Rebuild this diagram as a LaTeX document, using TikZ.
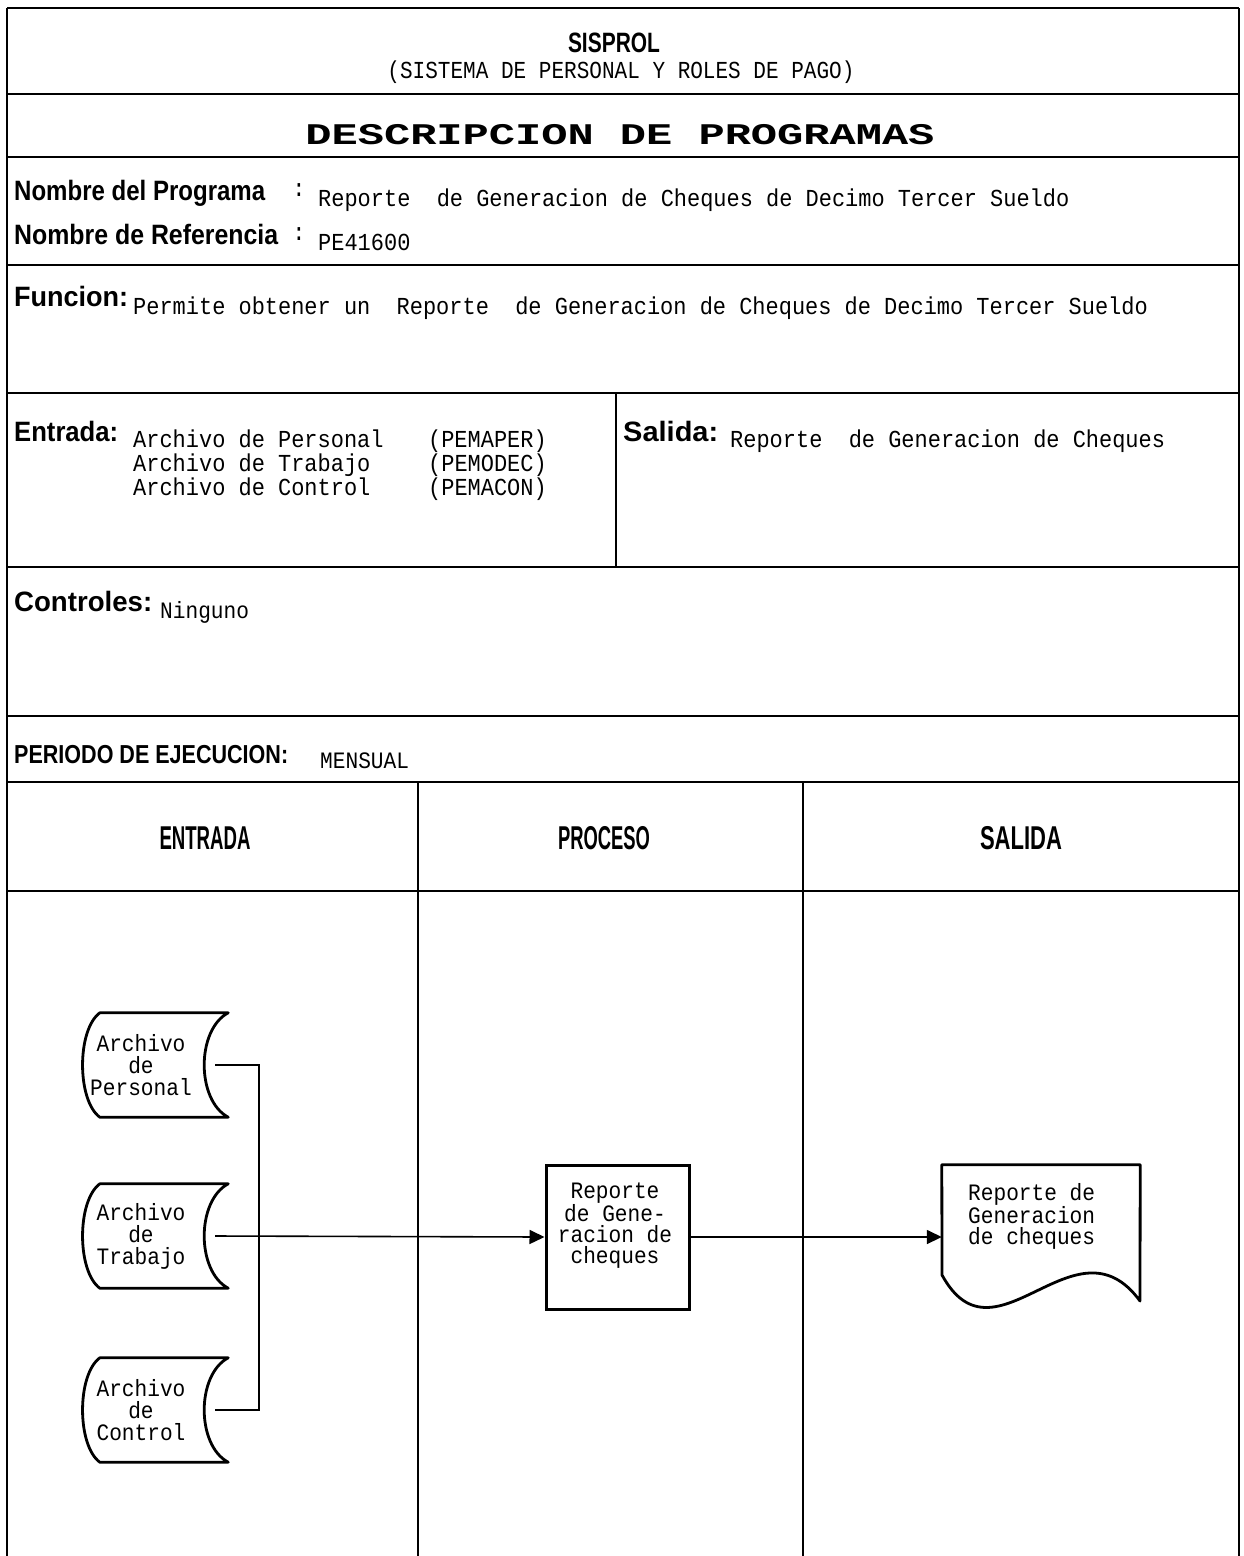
\documentclass[tikz,border=0pt]{standalone}
\usepackage{fontspec}
\usepackage{graphicx}
\usetikzlibrary{arrows.meta,calc}
\setmainfont{Liberation Sans}
\newfontfamily\hdf{Liberation Sans}
\newfontfamily\monof[FakeStretch=0.9]{Liberation Mono}
\newcommand\fitw[2]{\resizebox{#1}{\height}{#2}}
\newcommand\fsz[2]{\fontsize{#1}{#2}\selectfont}
\tikzset{
  hline/.style={line width=2.8pt},
  vline/.style={line width=2.2pt},
  cline/.style={line width=1.5pt},
  hd/.style={inner sep=0pt, font=\hdf\bfseries\fsz{28}{28}},
  tx/.style={inner sep=0pt, font=\monof\fsz{24.4}{22}},
  dtx/.style={inner sep=0pt, font=\monof\fsz{23.5}{21}, align=center},
  shp/.style={line width=2.8pt, line join=round},
  conn/.style={line width=1.6pt},
  arr/.style={conn, -{Triangle[length=15pt,width=14pt]}}
}
\begin{document}
\begin{tikzpicture}[x=1pt,y=-1pt]
\useasboundingbox (0,0) rectangle (1244,1556);
\fill[white] (0,0) rectangle (1244,1556);
% frame
\draw[vline] (7,8) -- (7,1556);
\draw[vline] (1239,8) -- (1239,1556);
\foreach \yy in {8,94,157,265,393,567,716,782,891}
  \draw[hline] (7,\yy) -- (1239,\yy);
\draw[cline] (616,393) -- (616,567);
\draw[cline] (418,782) -- (418,1556);
\draw[cline] (803,782) -- (803,1556);

% header
\node[hd, font=\hdf\bfseries\fsz{28}{28}, anchor=base] (t1) at (614,52) {\fitw{92pt}{SISPROL}};
\node[tx, anchor=base] (t2) at (621,78) {\fitw{467pt}{(SISTEMA DE PERSONAL Y ROLES DE PAGO)}};
\node[inner sep=0pt, font=\monof\bfseries\fsz{30}{30}, anchor=base] (t3) at (620,144) {\fitw{629pt}{DESCRIPCION DE PROGRAMAS}};

% nombre
\node[hd, anchor=base west] (np) at (14,200) {\fitw{251pt}{Nombre del Programa}};
\node[tx, anchor=base] (npc) at (299,196) {:};
\node[tx, anchor=base west] (npv) at (318,206) {Reporte\ \ de Generacion de Cheques de Decimo Tercer Sueldo};
\node[hd, anchor=base west] (nr) at (14,244) {\fitw{264pt}{Nombre de Referencia}};
\node[tx, anchor=base] (nrc) at (299,240) {:};
\node[tx, anchor=base west] (nrv) at (318,250) {PE41600};

% funcion
\node[hd, anchor=base west] (fu) at (14,306) {\fitw{114pt}{Funcion:}};
\node[tx, anchor=base west] (fuv) at (133,314) {Permite obtener un\ \ Reporte\ \ de Generacion de Cheques de Decimo Tercer Sueldo};

% entrada / salida
\node[hd, anchor=base west] (en) at (14,441) {\fitw{104pt}{Entrada:}};
\node[tx, anchor=north west, align=left, font=\monof\fsz{24.4}{21}] (env) at (133,430)
  {\makebox[295pt][l]{Archivo de Personal}(PEMAPER)\\
   \makebox[295pt][l]{Archivo de Trabajo}(PEMODEC)\\
   \makebox[295pt][l]{Archivo de Control}(PEMACON)};
\node[hd, anchor=base west] (sa) at (623,441) {\fitw{95pt}{Salida:}};
\node[tx, anchor=base west] (sav) at (730,447) {Reporte\ \ de Generacion de Cheques};

% controles
\node[hd, anchor=base west] (co) at (14,611) {\fitw{138pt}{Controles:}};
\node[tx, font=\monof\fsz{23.5}{21}, anchor=base west] (cov) at (160,618) {Ninguno};

% periodo
\node[hd, font=\hdf\bfseries\fsz{26}{26}, anchor=base west] (pe) at (14,763) {\fitw{274pt}{PERIODO DE EJECUCION:}};
\node[tx, font=\monof\fsz{23.5}{21}, anchor=base west] (pev) at (320,768) {MENSUAL};

% column headers
\node[hd, font=\hdf\bfseries\fsz{33}{33}, anchor=base] (h1) at (205,849) {\fitw{91pt}{ENTRADA}};
\node[hd, font=\hdf\bfseries\fsz{33}{33}, anchor=base] (h2) at (604,849) {\fitw{92pt}{PROCESO}};
\node[hd, font=\hdf\bfseries\fsz{33}{33}, anchor=base] (h3) at (1021,849) {\fitw{82pt}{SALIDA}};

% stored data files
\foreach \nm/\cy/\lbl in {f1/1065/{Archivo\\de\\Personal}, f2/1236/{Archivo\\de\\Trabajo}, f3/1410/{Archivo\\de\\Control}}{
  \node[inner sep=0pt, minimum width=146pt, minimum height=104pt] (\nm) at (155,\cy) {};
  \node[dtx, font=\monof\fsz{23.5}{22}] (\nm t) at ($(\nm.center)+(-14,0)$) {\lbl};
  \draw[shp] ([xshift=18pt]\nm.north west) -- (\nm.north east)
     .. controls +(-32,17) and +(-32,-17) .. (\nm.south east)
     -- ([xshift=18pt]\nm.south west)
     .. controls +(-23,-17) and +(-23,17) .. ([xshift=18pt]\nm.north west) -- cycle;
  \coordinate (\nm r) at ($(\nm.east)+(-13,0)$);
}
\coordinate (jn) at (259,1065);
\coordinate (js) at (259,1410);

% process box
\node[draw, line width=3pt, inner sep=0pt, minimum width=143pt, minimum height=144pt] (pr) at (617.5,1237) {};
\node[dtx, font=\monof\fsz{23.5}{21}] (prt) at (615,1226) {Reporte\\de Gene-\\racion de\\cheques};

% document
\node[inner sep=0pt, minimum width=198pt, minimum height=110pt] (dc) at (1041,1220) {};
\draw[shp] (dc.north west) -- (dc.north east) -- (1140,1301)
   .. controls (1075,1212) and (995,1372) .. (942,1275) -- cycle;
\node[dtx, align=left, font=\monof\fsz{23.5}{21}, anchor=north west] (dct) at (968,1183) {Reporte de\\Generacion\\de cheques};

% connectors
\draw[conn] (f1r) -- (jn) -- (js) -- (f3r);
\draw[arr] (f2r) -- (pr.west);
\draw[arr] (pr.east) -- (dc.west |- pr.east);
\end{tikzpicture}
\end{document}
